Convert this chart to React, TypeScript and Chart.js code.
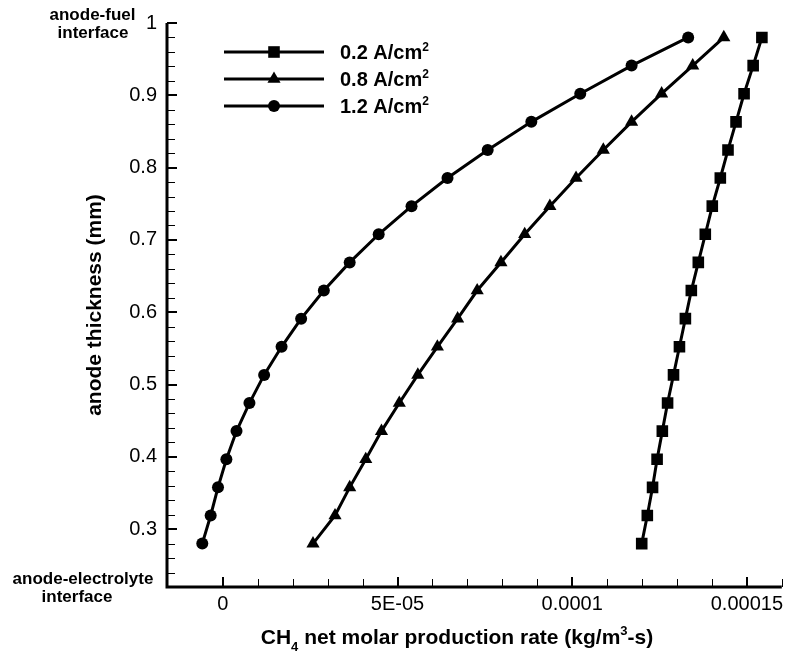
import React, { useEffect, useRef } from "react";
import { Chart, registerables } from "chart.js";

Chart.register(...registerables);

// Position across the anode (mm), from the electrolyte side up to the fuel side
const THICKNESS = [
  0.28, 0.3189, 0.3578, 0.3967, 0.4356, 0.4744, 0.5133, 0.5522, 0.5911, 0.63,
  0.6689, 0.7078, 0.7467, 0.7856, 0.8244, 0.8633, 0.9022, 0.9411, 0.98,
];

// CH4 net molar production rate (kg/m^3-s) for each current density
const RATE_02 = [
  1.199e-4, 1.215e-4, 1.23e-4, 1.243e-4, 1.258e-4, 1.273e-4, 1.29e-4, 1.307e-4,
  1.324e-4, 1.341e-4, 1.361e-4, 1.381e-4, 1.401e-4, 1.424e-4, 1.446e-4, 1.469e-4,
  1.492e-4, 1.518e-4, 1.543e-4,
];
const RATE_08 = [
  2.58e-5, 3.21e-5, 3.63e-5, 4.09e-5, 4.54e-5, 5.05e-5, 5.58e-5, 6.14e-5, 6.72e-5,
  7.28e-5, 7.96e-5, 8.64e-5, 9.36e-5, 1.011e-4, 1.089e-4, 1.17e-4, 1.256e-4,
  1.345e-4, 1.434e-4,
];
const RATE_12 = [
  -5.9e-6, -3.5e-6, -1.4e-6, 1.0e-6, 3.9e-6, 7.6e-6, 1.18e-5, 1.68e-5, 2.24e-5,
  2.89e-5, 3.63e-5, 4.46e-5, 5.4e-5, 6.43e-5, 7.58e-5, 8.83e-5, 1.023e-4, 1.17e-4,
  1.332e-4,
];

const SERIES_LABELS = ["0.2 A/cm", "0.8 A/cm", "1.2 A/cm"];
const SERIES_UNIT_POWER = "2";
const SERIES_MARKERS = ["rect", "triangle", "circle"];
const SERIES_RADII = [8.2, 7.6, 6];

const X_TICK_LABELS: [number, string][] = [
  [0, "0"],
  [5e-5, "5E-05"],
  [1e-4, "0.0001"],
  [1.5e-4, "0.00015"],
];
const Y_TICK_LABELS: [number, string][] = [
  [0.3, "0.3"],
  [0.4, "0.4"],
  [0.5, "0.5"],
  [0.6, "0.6"],
  [0.7, "0.7"],
  [0.8, "0.8"],
  [0.9, "0.9"],
  [1.0, "1"],
];

const FONT = '"Liberation Sans", Arial, Helvetica, sans-serif';

const isMultiple = (v: number, step: number) =>
  Math.abs(v / step - Math.round(v / step)) < 1e-4;

function drawMarker(ctx: CanvasRenderingContext2D, style: string, x: number, y: number, r: number) {
  ctx.beginPath();
  if (style === "rect") {
    const s = Math.SQRT1_2 * r;
    ctx.rect(x - s, y - s, 2 * s, 2 * s);
  } else if (style === "triangle") {
    const a = (Math.PI * 2) / 3;
    ctx.moveTo(x, y - r);
    ctx.lineTo(x + Math.sin(a) * r, y - Math.cos(a) * r);
    ctx.lineTo(x - Math.sin(a) * r, y - Math.cos(a) * r);
    ctx.closePath();
  } else {
    ctx.arc(x, y, r, 0, Math.PI * 2);
  }
  ctx.fill();
}

// Draws a run of text pieces (with sub/superscripts) starting at x
function drawPieces(
  ctx: CanvasRenderingContext2D,
  pieces: { t: string; size: number; dy?: number }[],
  x: number,
  y: number,
  align: "left" | "center"
) {
  ctx.textAlign = "left";
  ctx.textBaseline = "alphabetic";
  let total = 0;
  for (const p of pieces) {
    ctx.font = `bold ${p.size}px ${FONT}`;
    total += ctx.measureText(p.t).width;
  }
  let cx = align === "center" ? x - total / 2 : x;
  for (const p of pieces) {
    ctx.font = `bold ${p.size}px ${FONT}`;
    ctx.fillText(p.t, cx, y + (p.dy || 0));
    cx += ctx.measureText(p.t).width;
  }
}

const framePlugin = {
  id: "frame",
  beforeDatasetsDraw(chart: any) {
    const { ctx, chartArea: a, scales } = chart;
    const xs = scales.x;
    const ys = scales.y;
    ctx.save();
    ctx.strokeStyle = "#000";

    // inward tick marks on the left axis
    for (const t of ys.ticks) {
      const v = t.value;
      if (!isMultiple(v, 0.02)) continue;
      const major = isMultiple(v, 0.1);
      const p = ys.getPixelForValue(v);
      ctx.lineWidth = major ? 2 : 1;
      const py = major ? Math.round(p) : Math.round(p) + 0.5;
      ctx.beginPath();
      ctx.moveTo(a.left, py);
      ctx.lineTo(a.left + (major ? 10 : 8), py);
      ctx.stroke();
    }
    // inward tick marks on the bottom axis
    for (const t of xs.ticks) {
      const v = t.value;
      if (!isMultiple(v, 1e-5)) continue;
      const major = isMultiple(v, 5e-5);
      const p = xs.getPixelForValue(v);
      ctx.lineWidth = major ? 2 : 1;
      const px = major ? Math.round(p) : Math.round(p) + 0.5;
      ctx.beginPath();
      ctx.moveTo(px, a.bottom);
      ctx.lineTo(px, a.bottom - (major ? 10 : 8));
      ctx.stroke();
    }

    // axis lines
    ctx.lineWidth = 3;
    ctx.beginPath();
    ctx.moveTo(a.left, a.top);
    ctx.lineTo(a.left, a.bottom + 1.5);
    ctx.moveTo(a.left - 1.5, a.bottom);
    ctx.lineTo(a.right, a.bottom);
    ctx.stroke();
    ctx.restore();
  },
  afterDraw(chart: any) {
    const { ctx } = chart;
    ctx.save();
    ctx.fillStyle = "#000";
    ctx.strokeStyle = "#000";

    // legend
    const rows = [52, 79, 106];
    chart.data.datasets.forEach((ds: any, i: number) => {
      const y = rows[i];
      ctx.lineWidth = 3;
      ctx.beginPath();
      ctx.moveTo(224, y);
      ctx.lineTo(324, y);
      ctx.stroke();
      drawMarker(ctx, SERIES_MARKERS[i], 274, y, SERIES_RADII[i]);
      drawPieces(
        ctx,
        [
          { t: ds.label, size: 20 },
          { t: SERIES_UNIT_POWER, size: 12, dy: -8 },
        ],
        340,
        y + 7,
        "left"
      );
    });

    // x axis title
    drawPieces(
      ctx,
      [
        { t: "CH", size: 21 },
        { t: "4", size: 13, dy: 7 },
        { t: " net molar production rate (kg/m", size: 21 },
        { t: "3", size: 13, dy: -9 },
        { t: "-s)", size: 21 },
      ],
      457,
      644,
      "center"
    );

    // y axis title
    ctx.save();
    ctx.translate(95, 305);
    ctx.rotate(-Math.PI / 2);
    ctx.font = `bold 21px ${FONT}`;
    ctx.textAlign = "center";
    ctx.textBaseline = "middle";
    ctx.fillText("anode thickness (mm)", 0, 0);
    ctx.restore();

    // interface annotations
    ctx.font = `bold 17px ${FONT}`;
    ctx.textAlign = "center";
    ctx.textBaseline = "middle";
    ctx.fillText("anode-fuel", 92.5, 15);
    ctx.fillText("interface", 93, 33);
    ctx.fillText("anode-electrolyte", 83, 579);
    ctx.fillText("interface", 77, 597);

    ctx.restore();
  },
};

function makeSeries(xs: number[]) {
  return xs.map((x, i) => ({ x, y: THICKNESS[i] }));
}

export default function App() {
  const canvasRef = useRef<HTMLCanvasElement | null>(null);

  useEffect(() => {
    const canvas = canvasRef.current;
    if (!canvas) return;
    const series = [RATE_02, RATE_08, RATE_12];
    const chart = new Chart(canvas, {
      type: "scatter",
      data: {
        datasets: series.map((s, i) => ({
          label: SERIES_LABELS[i],
          data: makeSeries(s),
          showLine: true,
          borderColor: "#000",
          backgroundColor: "#000",
          borderWidth: 3,
          pointStyle: SERIES_MARKERS[i] as any,
          pointRadius: SERIES_RADII[i],
          pointBorderWidth: 0,
          pointBackgroundColor: "#000",
          tension: 0,
        })),
      },
      options: {
        responsive: false,
        animation: false,
        events: [],
        layout: { padding: { left: 0, top: 23, right: 5, bottom: 0 } },
        plugins: {
          legend: { display: false },
          tooltip: { enabled: false },
        },
        scales: {
          x: {
            type: "linear",
            min: -1.6e-5,
            max: 1.6e-4,
            grid: { display: false, drawTicks: false },
            border: { display: false },
            ticks: {
              stepSize: 1e-5,
              autoSkip: false,
              maxRotation: 0,
              padding: 5,
              color: "#000",
              font: { family: FONT, size: 20 },
              callback: (value: any) => {
                const m = X_TICK_LABELS.find(([v]) => Math.abs(v - Number(value)) < 1e-9);
                return m ? m[1] : "";
              },
            },
            afterFit: (scale: any) => {
              scale.height = 68;
            },
          },
          y: {
            type: "linear",
            min: 0.22,
            max: 1.0,
            grid: { display: false, drawTicks: false },
            border: { display: false },
            ticks: {
              stepSize: 0.02,
              autoSkip: false,
              padding: 10,
              color: "#000",
              font: { family: FONT, size: 20 },
              callback: (value: any) => {
                const m = Y_TICK_LABELS.find(([v]) => Math.abs(v - Number(value)) < 1e-6);
                return m ? m[1] : "";
              },
            },
            afterFit: (scale: any) => {
              scale.width = 167;
            },
          },
        },
      },
      plugins: [framePlugin],
    });
    return () => chart.destroy();
  }, []);

  return (
    <div
      style={{
        position: "absolute",
        left: 0,
        top: 0,
        width: 790,
        height: 655,
        background: "#fff",
      }}
    >
      <canvas ref={canvasRef} width={790} height={655} style={{ width: 790, height: 655 }} />
    </div>
  );
}
